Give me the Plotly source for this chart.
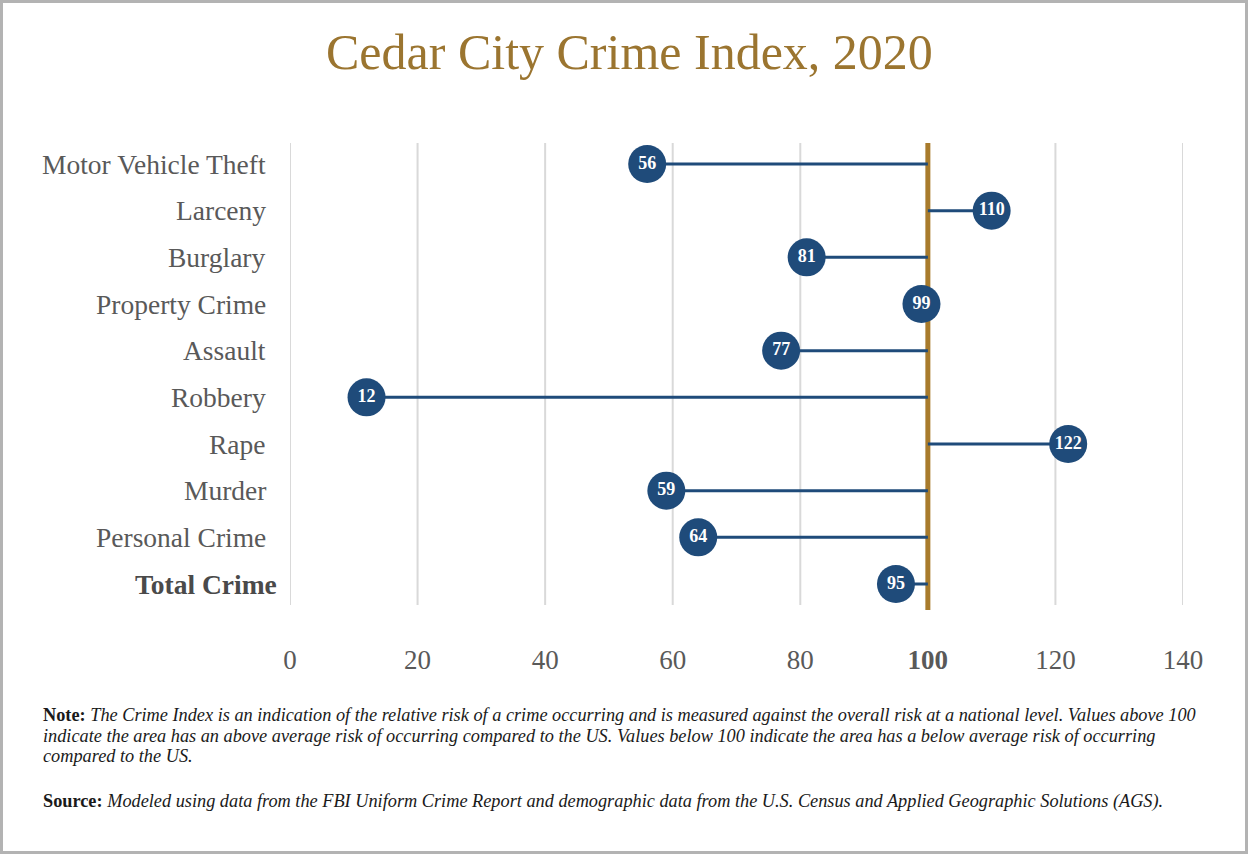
import plotly.graph_objects as go

categories = ["Motor Vehicle Theft", "Larceny", "Burglary", "Property Crime", "Assault",
              "Robbery", "Rape", "Murder", "Personal Crime", "Total Crime"]
values = [56, 110, 81, 99, 77, 12, 122, 59, 64, 95]
baseline = 100
x_ticks = [0, 20, 40, 60, 80, 100, 120, 140]

W, H = 1249, 854
L, R, T, B = 290, 1183, 143, 605  # plot area in pixels
pw, ph = R - L, B - T

def fx(px):
    return (px - L) / pw

def fy(py):
    return (B - py) / ph

NAVY = "#1f4b7a"
GOLD = "#a87b2c"
GRID = "#d9d9d9"
LABEL = "#595959"

fig = go.Figure()

# vertical gridlines at each tick
for gx in x_ticks:
    fig.add_shape(type="line", xref="x", yref="paper", x0=gx, x1=gx, y0=0, y1=1,
                  line=dict(color=GRID, width=2), layer="below")

# baseline vertical line (on top of gridlines, below data)
fig.add_shape(type="line", xref="x", yref="paper", x0=baseline, x1=baseline, y0=fy(610), y1=1,
              line=dict(color=GOLD, width=5), layer="below")

# stems from value to baseline
lx, ly = [], []
for c, v in zip(categories, values):
    lx += [v, baseline, None]
    ly += [c, c, None]
fig.add_trace(go.Scatter(x=lx, y=ly, mode="lines", line=dict(color=NAVY, width=3),
                         hoverinfo="skip", showlegend=False))

# dots
fig.add_trace(go.Scatter(x=values, y=categories, mode="markers+text",
                         marker=dict(size=38, color=NAVY, line=dict(width=0)),
                         text=[f"<b>{v}</b>" for v in values], textposition="middle center",
                         textfont=dict(family="Liberation Serif", size=18, color="white"),
                         cliponaxis=False, showlegend=False))

ticktext = [f"<b>{t}</b>" if t == baseline else str(t) for t in x_ticks]

fig.update_layout(
    width=W, height=H,
    margin=dict(l=L, r=W - R, t=T, b=H - B, pad=0),
    paper_bgcolor="white", plot_bgcolor="white",
    xaxis=dict(range=[0, 140], tickvals=x_ticks, ticktext=ticktext, showgrid=False,
               zeroline=False, showline=False, ticks="", ticklabelstandoff=36,
               tickfont=dict(family="Liberation Serif", size=27, color=LABEL)),
    yaxis=dict(categoryorder="array", categoryarray=categories, range=[9.45, -0.45],
               showticklabels=False, showgrid=False, zeroline=False, ticks=""),
    font=dict(family="Liberation Serif"),
)

# category labels
for c in categories:
    bold = c == "Total Crime"
    fig.add_annotation(text=f"<b>{c}</b>" if bold else c, xref="paper", yref="y",
                       x=fx(279 if bold else 268), y=c, xanchor="right", yanchor="middle",
                       showarrow=False,
                       font=dict(family="Liberation Serif", size=27.5,
                                 color="#4a4a4a" if bold else LABEL))

# title
fig.add_annotation(text="Cedar City Crime Index, 2020", xref="paper", yref="paper",
                   x=fx(629), y=fy(52), xanchor="center", yanchor="middle", showarrow=False,
                   font=dict(family="Liberation Serif", size=50, color="#9b7530"))

# notes
note_lines = [
    "<b>Note:</b> <i>The Crime Index is an indication of the relative risk of a crime occurring and is measured against the overall risk at a national level. Values above 100</i>",
    "<i>indicate the area has an above average risk of occurring compared to the US. Values below 100 indicate the area has a below average risk of occurring</i>",
    "<i>compared to the US.</i>",
]
for i, line in enumerate(note_lines):
    fig.add_annotation(text=line, xref="paper", yref="paper", x=fx(41), y=fy(715 + 20.5 * i),
                       xanchor="left", yanchor="middle", align="left", showarrow=False,
                       font=dict(family="Liberation Serif", size=18.3, color="#1a1a1a"))
source = ("<b>Source:</b> <i>Modeled using data from the FBI Uniform Crime Report and demographic data from the U.S. Census and Applied Geographic Solutions (AGS).</i>")
fig.add_annotation(text=source, xref="paper", yref="paper", x=fx(41), y=fy(801),
                   xanchor="left", yanchor="middle", align="left", showarrow=False,
                   font=dict(family="Liberation Serif", size=18.3, color="#1a1a1a"))

# outer border
fig.add_shape(type="rect", xref="paper", yref="paper", x0=fx(1.5), x1=fx(1246.5),
              y0=fy(852.5), y1=fy(1.5), line=dict(color="#b3b3b3", width=3), layer="below")

fig.write_html("out.html")
